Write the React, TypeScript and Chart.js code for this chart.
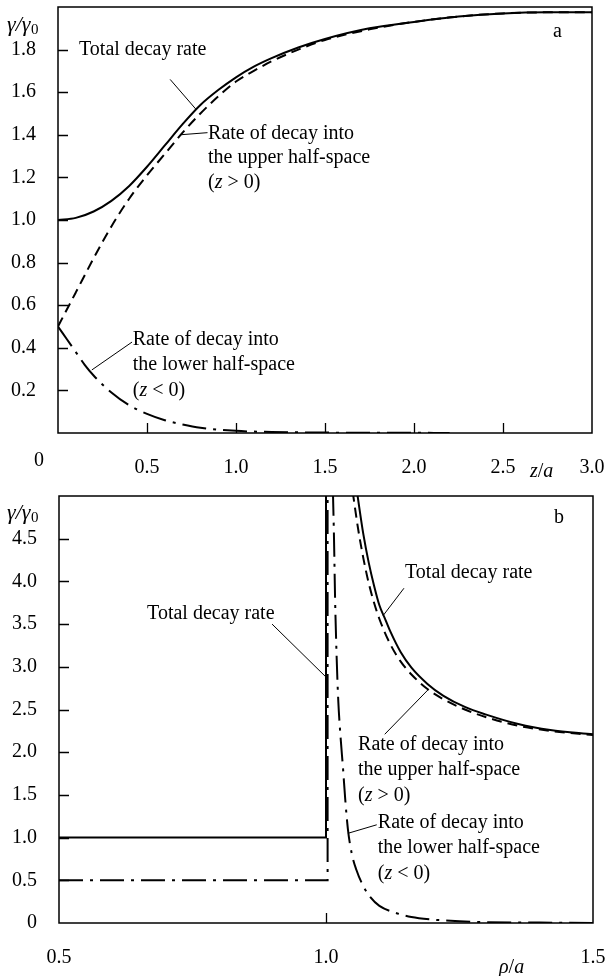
import React, { useEffect, useRef } from "react";
import { Chart, registerables } from "chart.js";

Chart.register(...registerables);

// ---------- Panel a : decay rate vs z/a ----------
const zTotalA = [0, 0.1, 0.2, 0.3, 0.4, 0.5, 0.6, 0.7, 0.8, 0.9, 1.0, 1.1, 1.2, 1.35, 1.5, 1.75, 2.0, 2.25, 2.5, 2.75, 3.0];
const totalA = [1.0, 1.01, 1.04, 1.09, 1.16, 1.25, 1.35, 1.45, 1.54, 1.61, 1.67, 1.72, 1.76, 1.81, 1.85, 1.9, 1.93, 1.955, 1.97, 1.975, 1.975];
const upperA = [0.5, 0.66, 0.82, 0.97, 1.1, 1.21, 1.31, 1.41, 1.5, 1.58, 1.65, 1.7, 1.745, 1.8, 1.845, 1.895, 1.93, 1.955, 1.97, 1.975, 1.975];
const zLowerA = [0, 0.05, 0.1, 0.15, 0.2, 0.3, 0.4, 0.5, 0.6, 0.7, 0.8, 1.0, 1.2, 1.5, 2.0, 2.2];
const lowerA = [0.5, 0.44, 0.38, 0.32, 0.27, 0.19, 0.13, 0.09, 0.06, 0.04, 0.025, 0.01, 0.005, 0.002, 0.001, 0.0];

// ---------- Panel b : decay rate vs rho/a ----------
const rhoInside = [0.5, 1.0, 1.0];
const totalInside = [1.0, 1.0, 5.6];
const rhoLowerInside = [0.5, 1.003, 1.003];
const lowerInside = [0.5, 0.5, 5.6];
const rhoTotalOut = [1.058, 1.07, 1.08, 1.09, 1.1, 1.11, 1.12, 1.14, 1.16, 1.19, 1.22, 1.26, 1.3, 1.36, 1.42, 1.5];
const totalOut = [5.05, 4.55, 4.22, 3.95, 3.72, 3.57, 3.42, 3.17, 2.99, 2.8, 2.66, 2.53, 2.44, 2.33, 2.26, 2.21];
const rhoUpperOut = [1.05, 1.06, 1.07, 1.08, 1.09, 1.1, 1.12, 1.14, 1.16, 1.19, 1.22, 1.26, 1.3, 1.36, 1.42, 1.5];
const upperOut = [5.05, 4.62, 4.27, 3.98, 3.75, 3.56, 3.27, 3.06, 2.91, 2.74, 2.62, 2.5, 2.41, 2.31, 2.25, 2.2];
const rhoLowerOut = [1.013, 1.015, 1.017, 1.02, 1.023, 1.027, 1.032, 1.036, 1.041, 1.048, 1.057, 1.07, 1.082, 1.1, 1.13, 1.16, 1.2, 1.25, 1.3, 1.4, 1.5];
const lowerOut = [5.05, 4.5, 3.8, 3.1, 2.6, 2.2, 1.8, 1.45, 1.1, 0.82, 0.62, 0.43, 0.31, 0.2, 0.12, 0.07, 0.04, 0.02, 0.01, 0.005, 0.0];

const FONT = '"Liberation Serif", "Times New Roman", serif';
const FS = 20;
const DASH = [10, 6];
const DASHDOT = [24, 7, 3, 7];

type Part = [string, boolean];

function drawRich(ctx: CanvasRenderingContext2D, x: number, y: number, parts: Part[]) {
  ctx.textBaseline = "middle";
  ctx.textAlign = "left";
  let cx = x;
  for (const [t, it] of parts) {
    ctx.font = `${it ? "italic " : ""}${FS}px ${FONT}`;
    ctx.fillText(t, cx, y);
    cx += ctx.measureText(t).width;
  }
}

function drawGamma(ctx: CanvasRenderingContext2D, x: number, y: number) {
  ctx.textBaseline = "middle";
  ctx.textAlign = "left";
  ctx.font = `italic 22px ${FONT}`;
  ctx.fillText("γ/γ", x, y);
  const w = ctx.measureText("γ/γ").width;
  ctx.font = `15px ${FONT}`;
  ctx.fillText("0", x + w + 0.5, y + 5);
}

type Ann = {
  texts: { x: number; y: number; parts: Part[] }[];
  lines: [number, number, number, number][];
  draw: (ctx: CanvasRenderingContext2D) => void;
};

const annotPlugin = (ann: Ann) => ({
  id: "annot",
  afterDraw(chart: any) {
    const { ctx, chartArea } = chart;
    const { left, right, top, bottom } = chartArea;
    const xs = chart.scales.x;
    const ys = chart.scales.y;
    ctx.save();
    ctx.fillStyle = "#000";
    ctx.strokeStyle = "#000";
    ctx.lineWidth = 1.5;
    ctx.strokeRect(left, top, right - left, bottom - top);
    ctx.lineWidth = 1.3;
    ctx.beginPath();
    ys.ticks.forEach((t: any) => {
      if (t.value <= ys.min + 1e-9 || t.value >= ys.max - 1e-9) return;
      const py = Math.round(ys.getPixelForValue(t.value)) + 0.5;
      ctx.moveTo(left, py);
      ctx.lineTo(left + 10, py);
    });
    xs.ticks.forEach((t: any) => {
      if (t.value <= xs.min + 1e-9 || t.value >= xs.max - 1e-9) return;
      const px = Math.round(xs.getPixelForValue(t.value)) + 0.5;
      ctx.moveTo(px, bottom);
      ctx.lineTo(px, bottom - 10);
    });
    ctx.stroke();
    ctx.lineWidth = 1;
    ctx.beginPath();
    ann.lines.forEach(([x1, y1, x2, y2]) => {
      ctx.moveTo(xs.getPixelForValue(x1), ys.getPixelForValue(y1));
      ctx.lineTo(xs.getPixelForValue(x2), ys.getPixelForValue(y2));
    });
    ctx.stroke();
    ann.texts.forEach((t) => drawRich(ctx, xs.getPixelForValue(t.x), ys.getPixelForValue(t.y), t.parts));
    ann.draw(ctx);
    ctx.restore();
  },
});

const pts = (xs: number[], ys: number[]) => xs.map((x, i) => ({ x, y: ys[i] }));

const line = (data: any, dash: number[], smooth = true) => ({
  data,
  borderColor: "#000",
  borderWidth: 2,
  borderDash: dash,
  pointRadius: 0,
  fill: false,
  cubicInterpolationMode: smooth ? "monotone" : "default",
  tension: 0,
});

const fmt = (v: number) => Number(v).toFixed(1);

function makeOptions(c: any) {
  return {
    responsive: false,
    animation: false,
    devicePixelRatio: 1,
    events: [],
    layout: { padding: { top: c.padTop, right: c.padRight, left: 0, bottom: 0 } },
    plugins: { legend: { display: false }, tooltip: { enabled: false } },
    scales: {
      x: {
        type: "linear",
        min: c.xMin,
        max: c.xMax,
        grid: { display: false },
        border: { display: false },
        ticks: {
          stepSize: c.xStep,
          padding: 15,
          autoSkip: false,
          maxRotation: 0,
          color: "#000",
          font: { family: FONT, size: FS },
          callback: c.xCb,
        },
        afterFit: (s: any) => {
          s.height = c.xHeight;
          s.paddingLeft = 0;
          s.paddingRight = 0;
        },
      },
      y: {
        type: "linear",
        min: c.yMin,
        max: c.yMax,
        grid: { display: false },
        border: { display: false },
        ticks: {
          stepSize: c.yStep,
          padding: 14,
          autoSkip: false,
          color: "#000",
          font: { family: FONT, size: FS },
          callback: c.yCb,
        },
        afterFit: (s: any) => {
          s.width = c.yWidth;
          s.paddingTop = 0;
          s.paddingBottom = 0;
        },
      },
    },
  };
}

const annA: Ann = {
  texts: [
    { x: 0.118, y: 1.8, parts: [["Total decay rate", false]] },
    { x: 0.843, y: 1.404, parts: [["Rate of decay into", false]] },
    { x: 0.843, y: 1.291, parts: [["the upper half-space", false]] },
    { x: 0.843, y: 1.174, parts: [["(", false], ["z", true], [" > 0)", false]] },
    { x: 0.42, y: 0.437, parts: [["Rate of decay into", false]] },
    { x: 0.42, y: 0.32, parts: [["the lower half-space", false]] },
    { x: 0.42, y: 0.2, parts: [["(", false], ["z", true], [" < 0)", false]] },
  ],
  lines: [
    [0.63, 1.66, 0.775, 1.52],
    [0.685, 1.4, 0.84, 1.41],
    [0.19, 0.296, 0.416, 0.427],
  ],
  draw: (ctx) => {
    drawGamma(ctx, 7, 25);
    drawRich(ctx, 553, 32, [["a", false]]);
    ctx.textAlign = "center";
    ctx.font = `${FS}px ${FONT}`;
    ctx.fillText("0", 39, 461);
    drawRich(ctx, 530, 472, [["z", true], ["/", false], ["a", true]]);
  },
};

const annB: Ann = {
  texts: [
    { x: 0.665, y: 3.62, parts: [["Total decay rate", false]] },
    { x: 1.148, y: 4.1, parts: [["Total decay rate", false]] },
    { x: 1.06, y: 2.09, parts: [["Rate of decay into", false]] },
    { x: 1.06, y: 1.8, parts: [["the upper half-space", false]] },
    { x: 1.06, y: 1.49, parts: [["(", false], ["z", true], [" > 0)", false]] },
    { x: 1.097, y: 1.17, parts: [["Rate of decay into", false]] },
    { x: 1.097, y: 0.88, parts: [["the lower half-space", false]] },
    { x: 1.097, y: 0.58, parts: [["(", false], ["z", true], [" < 0)", false]] },
  ],
  lines: [
    [0.899, 3.5, 1.0, 2.88],
    [1.146, 3.92, 1.107, 3.6],
    [1.11, 2.21, 1.191, 2.73],
    [1.041, 1.05, 1.095, 1.15],
  ],
  draw: (ctx) => {
    drawGamma(ctx, 7, 25);
    drawRich(ctx, 554, 30, [["b", false]]);
    drawRich(ctx, 499, 480, [["ρ", true], ["/", false], ["a", true]]);
  },
};

function Panel({ kind }: { kind: "a" | "b" }) {
  const ref = useRef<HTMLCanvasElement>(null);
  useEffect(() => {
    if (!ref.current) return;
    let chart: Chart;
    if (kind === "a") {
      chart = new Chart(ref.current, {
        type: "line",
        data: {
          datasets: [
            line(pts(zLowerA, lowerA), DASHDOT),
            line(pts(zTotalA, upperA), DASH),
            line(pts(zTotalA, totalA), []),
          ],
        },
        options: makeOptions({
          padTop: 7,
          padRight: 15,
          xMin: 0,
          xMax: 3,
          xStep: 0.5,
          yMin: 0,
          yMax: 2,
          yStep: 0.2,
          xHeight: 55,
          yWidth: 58,
          xCb: (v: number) => (Math.abs(v) < 1e-9 ? "" : fmt(v)),
          yCb: (v: number) => (Math.abs(v) < 1e-9 || Math.abs(v - 2) < 1e-9 ? "" : fmt(v)),
        }) as any,
        plugins: [annotPlugin(annA)],
      });
    } else {
      chart = new Chart(ref.current, {
        type: "line",
        data: {
          datasets: [
            line(pts(rhoLowerInside, lowerInside), DASHDOT, false),
            line(pts(rhoLowerOut, lowerOut), DASHDOT),
            line(pts(rhoUpperOut, upperOut), DASH),
            line(pts(rhoInside, totalInside), [], false),
            line(pts(rhoTotalOut, totalOut), []),
          ],
        },
        options: makeOptions({
          padTop: 8,
          padRight: 14,
          xMin: 0.5,
          xMax: 1.5,
          xStep: 0.5,
          yMin: 0,
          yMax: 5,
          yStep: 0.5,
          xHeight: 53,
          yWidth: 59,
          xCb: (v: number) => fmt(v),
          yCb: (v: number) => (Math.abs(v) < 1e-9 ? "0" : Math.abs(v - 5) < 1e-9 ? "" : fmt(v)),
        }) as any,
        plugins: [annotPlugin(annB)],
      });
    }
    return () => chart.destroy();
  }, [kind]);
  return <canvas ref={ref} width={607} height={488} style={{ display: "block", width: 607, height: 488 }} />;
}

export default function App() {
  return (
    <div style={{ position: "absolute", left: 0, top: 0, width: 607, height: 976, background: "#fff" }}>
      <Panel kind="a" />
      <Panel kind="b" />
    </div>
  );
}
